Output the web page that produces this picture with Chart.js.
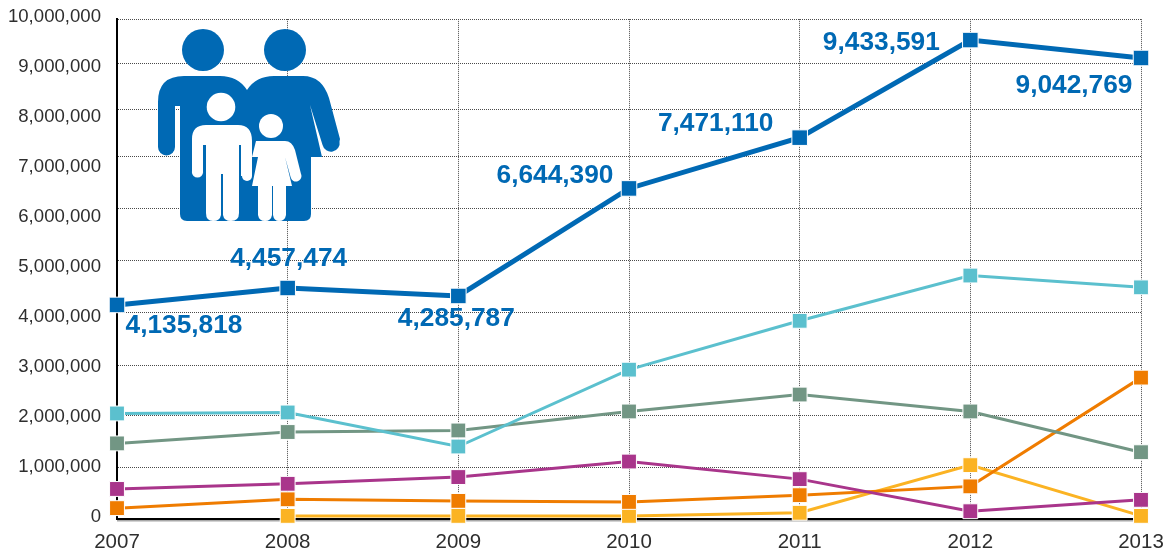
<!DOCTYPE html>
<html><head><meta charset="utf-8">
<script src="https://cdn.jsdelivr.net/npm/chart.js@4"></script>
<style>html,body{margin:0;padding:0;background:#fff}#w{width:1174px;height:554px;position:relative}</style>
</head><body><div id="w"><canvas id="c"></canvas></div>
<script>
const years = ['2007','2008','2009','2010','2011','2012','2013'];
const total = [4135818,4457474,4285787,6644390,7471110,9433591,9042769];
const cyan = [2040000,2060000,1400000,2920000,3850000,4700000,4470000];
const grey = [1460000,1680000,1710000,2080000,2420000,2080000,1290000];
const purple = [580000,680000,810000,1110000,770000,150000,370000];
const orange = [210000,380000,350000,330000,460000,630000,2760000];
const yellow = [null,60000,60000,60000,120000,1040000,60000];
const BLUE='#0069b4';

// The source axis is hand-drawn and uneven: value -> pixel row knots of that axis.
const TOP=17,BOTTOM=519;
const knots=[[0,519],[1e6,467],[2e6,415],[3e6,365],[4e6,312],[4135818,304],[4285787,295],[4457474,287],[5e6,259],[6e6,207],[6644390,187],[7e6,155],[7471110,136],[8e6,108],[9e6,62],[9042769,56],[9433591,38],[1e7,17]];
class KnottedScale extends Chart.LinearScale{
  static id='knotted';
  static defaults=Chart.LinearScale.defaults;
  _dec(v){
    for(let i=1;i<knots.length;i++){
      if(v<=knots[i][0]){
        const a=knots[i-1],b=knots[i],t=(v-a[0])/(b[0]-a[0]);
        return (BOTTOM-(a[1]+t*(b[1]-a[1])))/(BOTTOM-TOP);
      }
    }
    return 1;
  }
  getPixelForValue(v){return v===null||isNaN(v)?NaN:this.getPixelForDecimal(this._dec(v));}
}
Chart.register(KnottedScale);

function drawIcon(ctx){
  ctx.save();
  const fill=c=>{ctx.fillStyle=c;};
  const circle=(x,y,r)=>{ctx.beginPath();ctx.arc(x,y,r,0,7);ctx.fill();};
  const stroke=(c,w,pts,cap)=>{ctx.strokeStyle=c;ctx.lineWidth=w;ctx.lineCap=cap||'round';ctx.beginPath();pts.forEach((p,i)=>i?ctx.lineTo(p[0],p[1]):ctx.moveTo(p[0],p[1]));ctx.stroke();};
  fill(BLUE);
  circle(203,50,21);circle(285,50,21);
  ctx.beginPath();
  ctx.moveTo(158,147);
  ctx.lineTo(158,102);
  ctx.quadraticCurveTo(158,76,184,76);
  ctx.lineTo(220,76);
  ctx.quadraticCurveTo(238,76,247,90);
  ctx.quadraticCurveTo(256,76,274,76);
  ctx.lineTo(303,76);
  ctx.quadraticCurveTo(322,76,329,98);
  ctx.lineTo(340,139);
  ctx.arc(331,143,8.7,-0.2,2.9);
  ctx.lineTo(310,105);
  ctx.lineTo(322,157);
  ctx.lineTo(311,157);
  ctx.lineTo(311,214);
  ctx.quadraticCurveTo(311,221,304,221);
  ctx.lineTo(187,221);
  ctx.quadraticCurveTo(180,221,180,214);
  ctx.lineTo(180,106);
  ctx.lineTo(175,106);
  ctx.lineTo(175,147);
  ctx.arc(166.5,147,8.5,0,Math.PI);
  ctx.closePath();ctx.fill();
  const W='#fff';
  fill(W);
  circle(221,107,14.3);circle(271,126,12);
  ctx.beginPath();
  ctx.moveTo(192,172);ctx.lineTo(192,139);
  ctx.quadraticCurveTo(192,125,206,125);
  ctx.lineTo(238,125);
  ctx.quadraticCurveTo(252,125,252,141);
  ctx.lineTo(252,176);
  ctx.lineTo(241,176);ctx.lineTo(241,145);ctx.lineTo(239,145);
  ctx.lineTo(239,213);
  ctx.quadraticCurveTo(239,221,231,221);
  ctx.quadraticCurveTo(224,221,223,215);
  ctx.lineTo(223,174);ctx.lineTo(221,174);ctx.lineTo(221,215);
  ctx.quadraticCurveTo(220,221,213,221);
  ctx.quadraticCurveTo(206,221,206,213);
  ctx.lineTo(206,145);ctx.lineTo(203,145);ctx.lineTo(203,172);
  ctx.closePath();ctx.fill();
  circle(197.5,172,5.6);
  stroke(W,10,[[247,150],[247,176]]);
  ctx.beginPath();
  ctx.moveTo(256,141);ctx.lineTo(285,141);
  ctx.quadraticCurveTo(292,141,295,150);
  ctx.lineTo(301,174);
  ctx.arc(296,176,5.5,-0.2,2.9);
  ctx.lineTo(285,157);ctx.lineTo(292,186);ctx.lineTo(286,186);
  ctx.lineTo(286,215);ctx.quadraticCurveTo(285,221,279,221);ctx.quadraticCurveTo(274,221,273,215);
  ctx.lineTo(273,186);ctx.lineTo(272,186);
  ctx.lineTo(272,215);ctx.quadraticCurveTo(271,221,265,221);ctx.quadraticCurveTo(259,221,258,215);
  ctx.lineTo(258,186);ctx.lineTo(252,186);ctx.lineTo(258,157);
  ctx.lineTo(252,157);
  ctx.closePath();ctx.fill();
  ctx.restore();
}
const iconPlugin={id:'icon',beforeDatasetsDraw(chart){drawIcon(chart.ctx);}};

const labelShift=[[67,21],[1,-29],[-2,23],[-74,-13],[-84,-14],[-89,3],[-67,28]];
const labelPlugin={id:'labels',afterDatasetsDraw(chart){
  const ctx=chart.ctx,meta=chart.getDatasetMeta(0);
  ctx.save();
  ctx.font='bold 26.3px "Liberation Sans"';
  ctx.fillStyle=BLUE;ctx.textAlign='center';ctx.textBaseline='middle';
  total.forEach((v,i)=>{
    const p=meta.data[i];
    ctx.fillText(v.toLocaleString('en-US'),p.x+labelShift[i][0],p.y+labelShift[i][1]);
  });
  ctx.restore();
}};
const underline={id:'underline',beforeDraw(chart){
  const {ctx,chartArea:a}=chart;
  ctx.save();ctx.fillStyle='#a8a8a8';ctx.fillRect(a.left,a.bottom+1,a.right-a.left+2,1.5);ctx.restore();
}};

const ds=(data,color,lw)=>({data,borderColor:color,backgroundColor:color,borderWidth:lw,
  pointStyle:'rect',pointRadius:lw>3?11:10.5,pointBackgroundColor:color,pointBorderColor:'#ffffff',pointBorderWidth:1,
  tension:0,spanGaps:false,clip:false,yAxisID:'yData',xAxisID:'x'});
const DOT={color:'#4a4a4a',lineWidth:1};
new Chart(document.getElementById('c'),{
  type:'line',
  data:{labels:years,datasets:[
    ds(total,BLUE,5),ds(cyan,'#5bc0ce',3),ds(grey,'#729684',3),ds(purple,'#a9358b',3),ds(orange,'#ef7c00',3),ds(yellow,'#fbb323',3)
  ]},
  plugins:[iconPlugin,labelPlugin,underline],
  options:{
    responsive:true,maintainAspectRatio:false,animation:false,
    layout:{padding:{left:0,right:33,top:10,bottom:0}},
    plugins:{legend:{display:false},tooltip:{enabled:false}},
    scales:{
      x:{type:'category',offset:false,
        afterFit(s){s.height=35;s.paddingRight=0;s.paddingLeft=0;},
        grid:{...DOT,drawTicks:false},
        border:{display:true,color:'#000',width:2,dash:[1,1]},
        ticks:{color:'#2e2e2e',font:{family:'"Liberation Sans"',size:20.5},padding:11,maxRotation:0,autoSkip:false}
      },
      y:{type:'linear',position:'left',min:0,max:10000000,weight:1,
        afterFit(s){s.width=117;},
        grid:{display:false},border:{display:false},
        ticks:{stepSize:1000000,padding:8,labelOffset:-2,color:'#2e2e2e',font:{family:'"Liberation Sans"',size:18.6},
          callback:v=>Number(v).toLocaleString('en-US')}
      },
      yData:{type:'knotted',position:'left',min:0,max:10000000,weight:0,
        afterFit(s){s.width=0;},
        grid:{...DOT,drawTicks:false},
        border:{display:true,color:'#000',width:2,dash:[1,1]},
        ticks:{display:false,stepSize:1000000}
      }
    }
  }
});
</script></body></html>
